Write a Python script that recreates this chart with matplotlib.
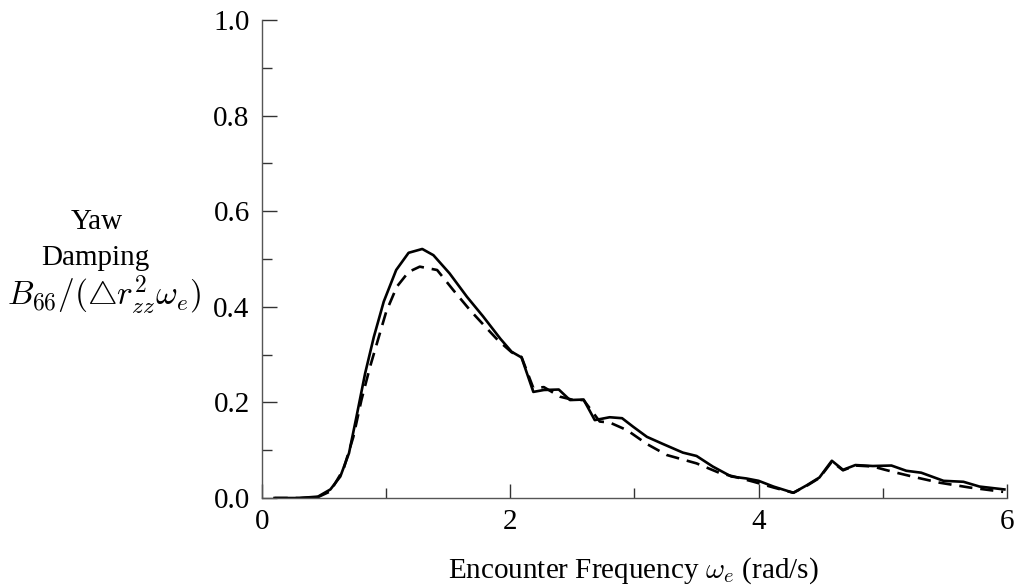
import numpy as np
import matplotlib.pyplot as plt

plt.rcParams['font.family'] = ['Liberation Serif', 'DejaVu Serif']
plt.rcParams['mathtext.fontset'] = 'cm'

# yaw damping vs encounter frequency, two computations
w_solid = [0.1, 0.3, 0.45, 0.55, 0.63, 0.70, 0.76, 0.83, 0.90, 0.98, 1.08, 1.18,
           1.29, 1.38, 1.51, 1.65, 1.78, 1.92, 2.01, 2.09, 2.185, 2.27, 2.39, 2.48,
           2.59, 2.68, 2.80, 2.90, 2.99, 3.10, 3.23, 3.39, 3.50, 3.63, 3.78, 3.90,
           4.00, 4.12, 4.28, 4.39, 4.49, 4.59, 4.68, 4.78, 4.92, 5.07, 5.19, 5.31,
           5.49, 5.65, 5.78, 5.98]
b_solid = [0.0, 0.0, 0.003, 0.018, 0.045, 0.094, 0.170, 0.261, 0.337, 0.411, 0.477, 0.513,
           0.521, 0.508, 0.470, 0.421, 0.380, 0.333, 0.306, 0.294, 0.222, 0.226, 0.227, 0.205,
           0.206, 0.163, 0.169, 0.167, 0.149, 0.128, 0.113, 0.095, 0.088, 0.066, 0.045, 0.041,
           0.036, 0.024, 0.011, 0.027, 0.043, 0.078, 0.059, 0.069, 0.067, 0.068, 0.057, 0.053,
           0.036, 0.034, 0.024, 0.018]

w_dash = [0.1, 0.3, 0.45, 0.55, 0.655, 0.735, 0.80, 0.87, 0.94, 1.00, 1.085, 1.18,
          1.27, 1.41, 1.54, 1.675, 1.81, 1.90, 2.01, 2.09, 2.185, 2.27, 2.40, 2.51,
          2.59, 2.72, 2.80, 2.94, 3.10, 3.26, 3.50, 3.69, 3.80, 3.96, 4.12, 4.28,
          4.39, 4.49, 4.59, 4.68, 4.78, 4.92, 5.02, 5.11, 5.27, 5.46, 5.70, 5.97]
b_dash = [0.0, 0.0, 0.002, 0.014, 0.060, 0.128, 0.205, 0.275, 0.337, 0.390, 0.442, 0.473,
          0.484, 0.477, 0.435, 0.393, 0.355, 0.330, 0.305, 0.295, 0.230, 0.232, 0.212, 0.205,
          0.205, 0.160, 0.158, 0.142, 0.113, 0.090, 0.0725, 0.052, 0.045, 0.034, 0.022, 0.011,
          0.026, 0.042, 0.076, 0.058, 0.068, 0.066, 0.059, 0.053, 0.043, 0.032, 0.022, 0.013]

fig = plt.figure(figsize=(10.16, 5.88), dpi=100)
ax = fig.add_axes([0.258, 0.153, 0.733, 0.813])

ax.plot(w_solid, b_solid, color='black', lw=1.9)
ax.plot(w_dash, b_dash, color='black', lw=1.9, linestyle=(0, (5, 3)))

ax.set_xlim(0, 6)
ax.set_ylim(0, 1.0)
ax.set_xticks([0, 2, 4, 6])
ax.set_xticks([1, 3, 5], minor=True)
ax.set_yticks(np.arange(0, 1.01, 0.2))
ax.set_yticks(np.arange(0.1, 1.0, 0.2), minor=True)
ax.set_yticklabels(['0.0', '0.2', '0.4', '0.6', '0.8', '1.0'])
ax.set_xticklabels(['0', '2', '4', '6'])

for s in ['top', 'right']:
    ax.spines[s].set_visible(False)
for s in ['left', 'bottom']:
    ax.spines[s].set_color('#555555')
    ax.spines[s].set_linewidth(1.0)

ax.tick_params(axis='both', which='both', direction='in', color='#333333', width=1.0,
               labelsize=21)
ax.tick_params(axis='y', which='major', length=11, pad=9)
ax.tick_params(axis='y', which='minor', length=7)
ax.tick_params(axis='x', which='major', length=10, pad=8)
ax.tick_params(axis='x', which='minor', length=7)

# y label as three stacked lines
fig.text(0.095, 0.611, 'Yaw', ha='center', va='baseline', fontsize=21)
fig.text(0.094, 0.550, 'Damping', ha='center', va='baseline', fontsize=21)
fig.text(0.102, 0.481, '$B_{66}/(\\bigtriangleup r_{zz}^2\\omega_e)$',
         ha='center', va='baseline', fontsize=24)
fig.text(0.623, 0.029, 'Encounter Frequency $\\omega_e$ (rad/s)',
         ha='center', va='center', fontsize=21)

fig.savefig('out.png', dpi=100)
